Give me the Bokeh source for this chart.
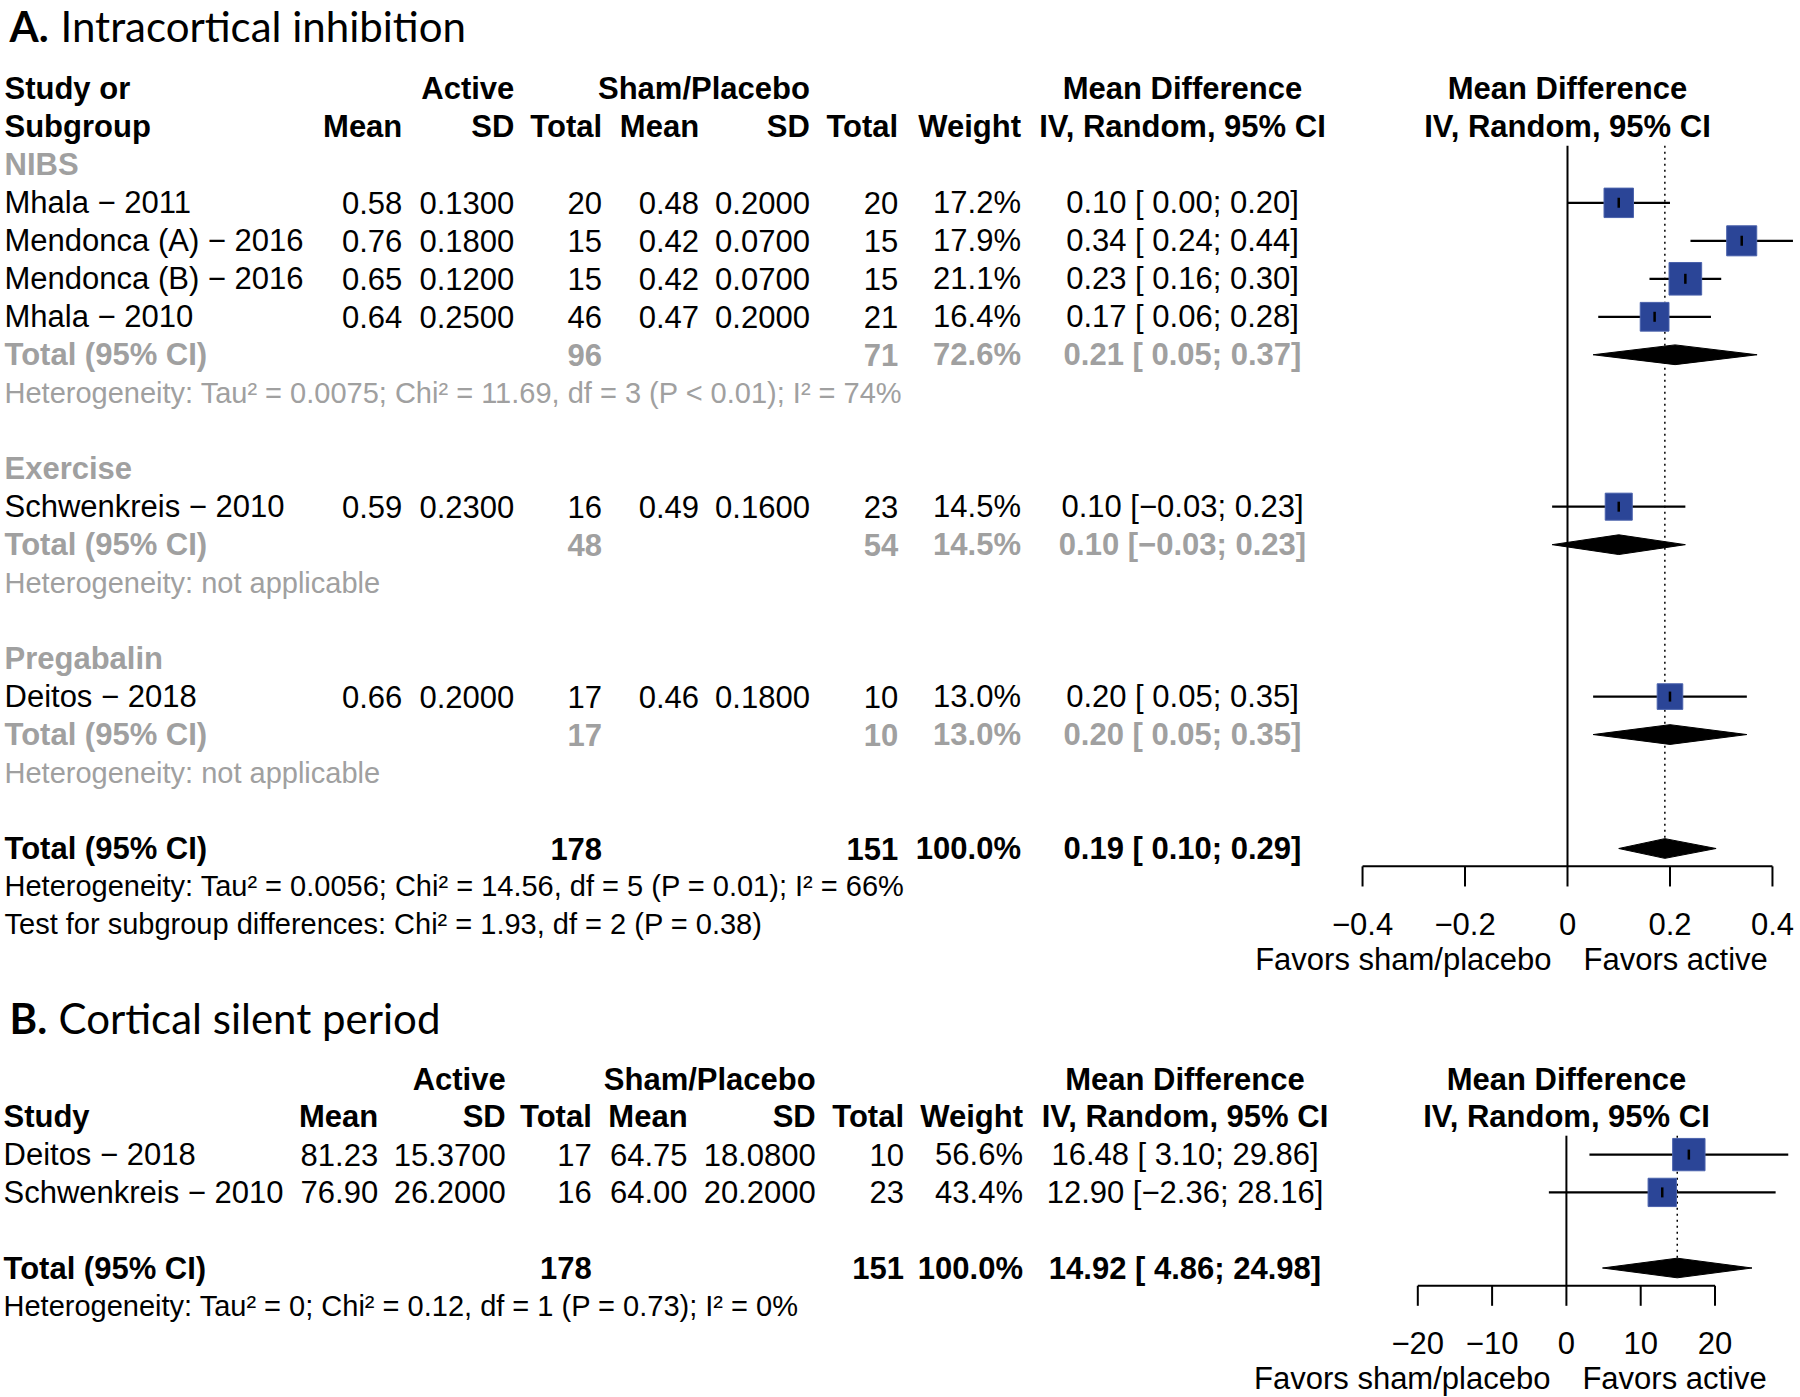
from bokeh.plotting import figure
from bokeh.models import Range1d
from bokeh.core.properties import value
from bokeh.embed import file_html
from bokeh.resources import INLINE
import numpy as np

MINUS = "\u2212"

# ---------------- Panel A data: Intracortical inhibition ----------------
A_subgroups = ["NIBS", "Exercise", "Pregabalin"]
A_study = ["Mhala \u2212 2011", "Mendonca (A) \u2212 2016", "Mendonca (B) \u2212 2016",
           "Mhala \u2212 2010", "Schwenkreis \u2212 2010", "Deitos \u2212 2018"]
A_group = ["NIBS", "NIBS", "NIBS", "NIBS", "Exercise", "Pregabalin"]
A_act_mean = [0.58, 0.76, 0.65, 0.64, 0.59, 0.66]
A_act_sd = [0.13, 0.18, 0.12, 0.25, 0.23, 0.20]
A_act_n = [20, 15, 15, 46, 16, 17]
A_sham_mean = [0.48, 0.42, 0.42, 0.47, 0.49, 0.46]
A_sham_sd = [0.20, 0.07, 0.07, 0.20, 0.16, 0.18]
A_sham_n = [20, 15, 15, 21, 23, 10]
A_weight = [17.2, 17.9, 21.1, 16.4, 14.5, 13.0]
A_md = [0.10, 0.34, 0.23, 0.17, 0.10, 0.20]
A_lo = [0.00, 0.24, 0.16, 0.06, -0.03, 0.05]
A_hi = [0.20, 0.44, 0.30, 0.28, 0.23, 0.35]

A_sub_act_n = [96, 48, 17]
A_sub_sham_n = [71, 54, 10]
A_sub_weight = [72.6, 14.5, 13.0]
A_sub_md = [0.21, 0.10, 0.20]
A_sub_lo = [0.05, -0.03, 0.05]
A_sub_hi = [0.37, 0.23, 0.35]
A_sub_het = ["Heterogeneity: Tau\u00b2 = 0.0075; Chi\u00b2 = 11.69, df = 3 (P < 0.01); I\u00b2 = 74%",
             "Heterogeneity: not applicable",
             "Heterogeneity: not applicable"]

A_tot_act_n = 178
A_tot_sham_n = 151
A_tot_weight = 100.0
A_tot_md, A_tot_lo, A_tot_hi = 0.19, 0.10, 0.29
A_tot_het = "Heterogeneity: Tau\u00b2 = 0.0056; Chi\u00b2 = 14.56, df = 5 (P = 0.01); I\u00b2 = 66%"
A_test = "Test for subgroup differences: Chi\u00b2 = 1.93, df = 2 (P = 0.38)"
A_ticks = [-0.4, -0.2, 0.0, 0.2, 0.4]
A_tick_labels = [MINUS + "0.4", MINUS + "0.2", "0", "0.2", "0.4"]

# ---------------- Panel B data: Cortical silent period ----------------
B_study = ["Deitos \u2212 2018", "Schwenkreis \u2212 2010"]
B_act_mean = [81.23, 76.90]
B_act_sd = [15.37, 26.20]
B_act_n = [17, 16]
B_sham_mean = [64.75, 64.00]
B_sham_sd = [18.08, 20.20]
B_sham_n = [10, 23]
B_weight = [56.6, 43.4]
B_md = [16.48, 12.90]
B_lo = [3.10, -2.36]
B_hi = [29.86, 28.16]
B_tot_act_n = 178
B_tot_sham_n = 151
B_tot_weight = 100.0
B_tot_md, B_tot_lo, B_tot_hi = 14.92, 4.86, 24.98
B_tot_het = "Heterogeneity: Tau\u00b2 = 0; Chi\u00b2 = 0.12, df = 1 (P = 0.73); I\u00b2 = 0%"
B_ticks = [-20, -10, 0, 10, 20]
B_tick_labels = [MINUS + "20", MINUS + "10", "0", "10", "20"]

# ---------------- styling / layout constants ----------------
W_REF, H_REF = 1800, 1397
FONT = "Liberation Sans"
TFONT = "Lato"
FS = "31px"
HFS = "29px"
TITLE_FS = "42px"
GRAY = "#A0A0A0"
BLUE = "#2B4597"

A_row0, A_rowh = 88.4, 37.98
B_row0, B_rowh = 1078.5, 37.8
A_fx0, A_fscale = 1567.0, 512.4
B_fx0, B_fscale = 1565.9, 7.43

p = figure(width=W_REF, height=H_REF, x_range=Range1d(0, W_REF), y_range=Range1d(H_REF, 0),
           output_backend="svg", toolbar_location=None, min_border=0,
           x_axis_location=None, y_axis_location=None)
p.grid.visible = False
p.outline_line_color = None

p.extra_x_ranges = {
    "fa": Range1d(start=(0 - A_fx0) / A_fscale, end=(W_REF - A_fx0) / A_fscale),
    "fb": Range1d(start=(0 - B_fx0) / B_fscale, end=(W_REF - B_fx0) / B_fscale),
}
p.extra_y_ranges = {
    "ra": Range1d(start=(H_REF - A_row0) / A_rowh, end=(0 - A_row0) / A_rowh),
    "rb": Range1d(start=(H_REF - B_row0) / B_rowh, end=(0 - B_row0) / B_rowh),
}


def txt(xs, ys, texts, yr="default", xr="default", align="left", bold=False,
        color="black", size=FS, font=FONT, x_offset=0):
    p.text(x=list(xs), y=list(ys), text=list(texts), x_range_name=xr, y_range_name=yr,
           text_align=align, text_baseline="middle", text_font=value(font),
           text_font_size=size, text_font_style="bold" if bold else "normal",
           text_color=color, x_offset=x_offset)


def ci_str(md, lo, hi):
    def f(v):
        s = f"{abs(v):.2f}"
        return (MINUS + s) if v < 0 else s
    lead = "" if lo < 0 else " "
    return f"{md:.2f} [{lead}{f(lo)}; {f(hi)}]"


# ---------------- Titles ----------------
txt([9], [25], ["A."], bold=True, font=TFONT, size=TITLE_FS)
txt([60], [25], ["Intracortical inhibition"], font=TFONT, size=TITLE_FS)
txt([9], [1017], ["B."], bold=True, font=TFONT, size=TITLE_FS)
txt([58], [1017], ["Cortical silent period"], font=TFONT, size=TITLE_FS)

# ---------------- Panel A table ----------------
cA = dict(lab=4, am=401.8, asd=513.8, an=601.6, sm=698.6, ssd=809.4, sn=897.7, w=1020.5, ci=1182, fh=1567)

txt([cA["lab"]], [0], ["Study or"], yr="ra", bold=True)
txt([cA["asd"], cA["ssd"]], [0, 0], ["Active", "Sham/Placebo"], yr="ra", align="right", bold=True)
txt([cA["ci"], cA["fh"]], [0, 0], ["Mean Difference", "Mean Difference"], yr="ra", align="center", bold=True)
txt([cA["lab"]], [1], ["Subgroup"], yr="ra", bold=True)
txt([cA["am"], cA["asd"], cA["an"], cA["sm"], cA["ssd"], cA["sn"], cA["w"]], [1] * 7,
    ["Mean", "SD", "Total", "Mean", "SD", "Total", "Weight"], yr="ra", align="right", bold=True)
txt([cA["ci"], cA["fh"]], [1, 1], ["IV, Random, 95% CI", "IV, Random, 95% CI"], yr="ra", align="center", bold=True)

# assign rows: header, studies, total, heterogeneity, blank
A_rows = []
A_sub_rows = []
A_sub_head_rows = []
r = 2
for g in A_subgroups:
    A_sub_head_rows.append(r)
    r += 1
    for gg in A_group:
        if gg == g:
            A_rows.append(r)
            r += 1
    A_sub_rows.append(r)
    r += 3
A_tot_row = r  # 20

txt([cA["lab"]] * 3, A_sub_head_rows, A_subgroups, yr="ra", bold=True, color=GRAY)
txt([cA["lab"]] * 6, A_rows, A_study, yr="ra")
txt([cA["am"]] * 6, A_rows, [f"{v:.2f}" for v in A_act_mean], yr="ra", align="right")
txt([cA["asd"]] * 6, A_rows, [f"{v:.4f}" for v in A_act_sd], yr="ra", align="right")
txt([cA["an"]] * 6, A_rows, [str(v) for v in A_act_n], yr="ra", align="right")
txt([cA["sm"]] * 6, A_rows, [f"{v:.2f}" for v in A_sham_mean], yr="ra", align="right")
txt([cA["ssd"]] * 6, A_rows, [f"{v:.4f}" for v in A_sham_sd], yr="ra", align="right")
txt([cA["sn"]] * 6, A_rows, [str(v) for v in A_sham_n], yr="ra", align="right")
txt([cA["w"]] * 6, A_rows, [f"{v:.1f}%" for v in A_weight], yr="ra", align="right")
txt([cA["ci"]] * 6, A_rows, [ci_str(m, l, h) for m, l, h in zip(A_md, A_lo, A_hi)], yr="ra", align="center")

txt([cA["lab"]] * 3, A_sub_rows, ["Total (95% CI)"] * 3, yr="ra", bold=True, color=GRAY)
txt([cA["an"]] * 3, A_sub_rows, [str(v) for v in A_sub_act_n], yr="ra", align="right", bold=True, color=GRAY)
txt([cA["sn"]] * 3, A_sub_rows, [str(v) for v in A_sub_sham_n], yr="ra", align="right", bold=True, color=GRAY)
txt([cA["w"]] * 3, A_sub_rows, [f"{v:.1f}%" for v in A_sub_weight], yr="ra", align="right", bold=True, color=GRAY)
txt([cA["ci"]] * 3, A_sub_rows, [ci_str(m, l, h) for m, l, h in zip(A_sub_md, A_sub_lo, A_sub_hi)],
    yr="ra", align="center", bold=True, color=GRAY)
txt([cA["lab"]] * 3, [rr + 1 for rr in A_sub_rows], A_sub_het, yr="ra", color=GRAY, size=HFS)

txt([cA["lab"]], [A_tot_row], ["Total (95% CI)"], yr="ra", bold=True)
txt([cA["an"], cA["sn"], cA["w"]], [A_tot_row] * 3,
    [str(A_tot_act_n), str(A_tot_sham_n), f"{A_tot_weight:.1f}%"], yr="ra", align="right", bold=True)
txt([cA["ci"]], [A_tot_row], [ci_str(A_tot_md, A_tot_lo, A_tot_hi)], yr="ra", align="center", bold=True)
txt([cA["lab"]] * 2, [A_tot_row + 1, A_tot_row + 2], [A_tot_het, A_test], yr="ra", size=HFS)

# ---------------- forest drawing helper ----------------
DH = 0.26  # diamond half height (rows)


def forest(xr, yr, rows, md, lo, hi, w, k, sub_rows, s_md, s_lo, s_hi, tot_row, t_md, t_lo, t_hi,
           ticks, tick_labels):
    axis_row = tot_row + 0.47
    # reference lines
    p.segment(x0=[0], x1=[0], y0=[1.5], y1=[axis_row], x_range_name=xr, y_range_name=yr,
              line_color="black", line_width=2)
    p.segment(x0=[t_md], x1=[t_md], y0=[1.5], y1=[tot_row - DH], x_range_name=xr, y_range_name=yr,
              line_color="black", line_width=1.5, line_dash="2 4")
    # CI lines
    p.segment(x0=lo, x1=hi, y0=rows, y1=rows, x_range_name=xr, y_range_name=yr,
              line_color="black", line_width=2.2)
    # squares (area proportional to weight)
    sizes = [k * np.sqrt(v) for v in w]
    p.rect(x=md, y=rows, width=sizes, height=sizes, width_units="screen", height_units="screen",
           x_range_name=xr, y_range_name=yr, fill_color=BLUE, line_color="#4A62AC", line_width=1)
    p.rect(x=md, y=rows, width=[2.5] * len(md), height=[10] * len(md), width_units="screen",
           height_units="screen", x_range_name=xr, y_range_name=yr, fill_color="black", line_color=None)
    # diamonds
    dm = list(s_md) + [t_md]
    dl = list(s_lo) + [t_lo]
    dh = list(s_hi) + [t_hi]
    dr = list(sub_rows) + [tot_row]
    xs = [[l, m, h, m] for m, l, h in zip(dm, dl, dh)]
    ys = [[rr, rr - DH, rr, rr + DH] for rr in dr]
    p.patches(xs=xs, ys=ys, x_range_name=xr, y_range_name=yr, fill_color="black", line_color="black",
              line_width=1)
    # axis
    p.segment(x0=[min(ticks)], x1=[max(ticks)], y0=[axis_row], y1=[axis_row], x_range_name=xr,
              y_range_name=yr, line_color="black", line_width=2)
    p.segment(x0=ticks, x1=ticks, y0=[axis_row] * len(ticks), y1=[axis_row + 0.53] * len(ticks),
              x_range_name=xr, y_range_name=yr, line_color="black", line_width=2)
    txt(ticks, [tot_row + 1.98] * len(ticks), tick_labels, xr=xr, yr=yr, align="center")
    txt([0], [tot_row + 2.92], ["Favors sham/placebo"], xr=xr, yr=yr, align="right", x_offset=-16)
    txt([0], [tot_row + 2.92], ["Favors active"], xr=xr, yr=yr, align="left", x_offset=16)


forest("fa", "ra", A_rows, A_md, A_lo, A_hi, A_weight, 7.1, A_sub_rows, A_sub_md, A_sub_lo, A_sub_hi,
       A_tot_row, A_tot_md, A_tot_lo, A_tot_hi, A_ticks, A_tick_labels)

# ---------------- Panel B table ----------------
cB = dict(lab=3, am=377.7, asd=505.2, an=591.3, sm=687.1, ssd=815.2, sn=903.5, w=1022.5, ci=1184.5, fh=1566)
B_rows = [2, 3]
B_tot_row = 5

txt([cB["asd"], cB["ssd"]], [0, 0], ["Active", "Sham/Placebo"], yr="rb", align="right", bold=True)
txt([cB["ci"], cB["fh"]], [0, 0], ["Mean Difference", "Mean Difference"], yr="rb", align="center", bold=True)
txt([cB["lab"]], [1], ["Study"], yr="rb", bold=True)
txt([cB["am"], cB["asd"], cB["an"], cB["sm"], cB["ssd"], cB["sn"], cB["w"]], [1] * 7,
    ["Mean", "SD", "Total", "Mean", "SD", "Total", "Weight"], yr="rb", align="right", bold=True)
txt([cB["ci"], cB["fh"]], [1, 1], ["IV, Random, 95% CI", "IV, Random, 95% CI"], yr="rb", align="center", bold=True)

txt([cB["lab"]] * 2, B_rows, B_study, yr="rb")
txt([cB["am"]] * 2, B_rows, [f"{v:.2f}" for v in B_act_mean], yr="rb", align="right")
txt([cB["asd"]] * 2, B_rows, [f"{v:.4f}" for v in B_act_sd], yr="rb", align="right")
txt([cB["an"]] * 2, B_rows, [str(v) for v in B_act_n], yr="rb", align="right")
txt([cB["sm"]] * 2, B_rows, [f"{v:.2f}" for v in B_sham_mean], yr="rb", align="right")
txt([cB["ssd"]] * 2, B_rows, [f"{v:.4f}" for v in B_sham_sd], yr="rb", align="right")
txt([cB["sn"]] * 2, B_rows, [str(v) for v in B_sham_n], yr="rb", align="right")
txt([cB["w"]] * 2, B_rows, [f"{v:.1f}%" for v in B_weight], yr="rb", align="right")
txt([cB["ci"]] * 2, B_rows, [ci_str(m, l, h) for m, l, h in zip(B_md, B_lo, B_hi)], yr="rb", align="center")

txt([cB["lab"]], [B_tot_row], ["Total (95% CI)"], yr="rb", bold=True)
txt([cB["an"], cB["sn"], cB["w"]], [B_tot_row] * 3,
    [str(B_tot_act_n), str(B_tot_sham_n), f"{B_tot_weight:.1f}%"], yr="rb", align="right", bold=True)
txt([cB["ci"]], [B_tot_row], [ci_str(B_tot_md, B_tot_lo, B_tot_hi)], yr="rb", align="center", bold=True)
txt([cB["lab"]], [B_tot_row + 1], [B_tot_het], yr="rb", size=HFS)

forest("fb", "rb", B_rows, B_md, B_lo, B_hi, B_weight, 4.3, [], [], [], [],
       B_tot_row, B_tot_md, B_tot_lo, B_tot_hi, B_ticks, B_tick_labels)

open("out.html", "w").write(file_html(p, INLINE))
